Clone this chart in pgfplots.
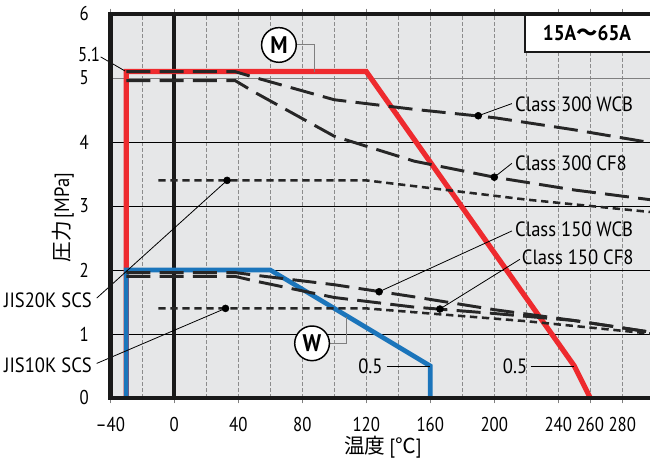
\documentclass[border=0pt]{standalone}
\usepackage{fontspec}
\setmainfont{PT Sans}[FakeStretch=0.9]
\newfontfamily\tickfont{PT Sans}[FakeStretch=0.84]
\newfontfamily\cjk{Noto Sans CJK JP}
\usepackage{pgfplots}
\pgfplotsset{compat=1.18}
\definecolor{bg}{HTML}{E6E7E8}
\definecolor{mred}{HTML}{EE2A2E}
\definecolor{wblue}{HTML}{1B75BB}
\definecolor{lead}{HTML}{7F7F7F}
\begin{document}
\begin{tikzpicture}[font=\fontsize{15.5}{18}\selectfont]
\begin{axis}[
  scale only axis, width=404.8pt, height=288pt,
  xmin=-40, xmax=297.3, ymin=0, ymax=6,
  axis line style={draw=none},
  axis background/.style={fill=bg},
  xtick={-40,0,40,80,120,160,200,240,260,280},
  xticklabels={–40,0,40,80,120,160,200,240,260,280},
  minor xtick={-20,20,60,100,140,180,220},
  xmajorgrids, xminorgrids,
  major grid style={black!45, line width=0.6pt, dash pattern=on 3pt off 1.5pt},
  minor grid style={black!45, line width=0.6pt, dash pattern=on 3pt off 1.5pt},
  ytick={0,1,2,3,4,5,6}, yticklabels={0,1,2,3,4,5,6},
  tick align=outside,
  major tick length=4pt, minor tick length=0pt,
  xtick style={lead, line width=0.6pt},
  ytick style={draw=none},
  ticklabel style={font=\tickfont\fontsize{15}{18}\selectfont},
  xticklabel style={anchor=north, inner sep=0pt, yshift=-10pt},
  yticklabel style={anchor=east, inner sep=0pt, xshift=-12pt},
  clip mode=individual,
]
\coordinate (SW) at (axis cs:-40,0);
% horizontal grid
\draw[black, line width=0.6pt] (axis cs:-40,1) -- (axis cs:297.3,1);
\draw[black, line width=0.6pt] (axis cs:-40,2) -- (axis cs:297.3,2);
\draw[black, line width=0.6pt] (axis cs:-40,3) -- (axis cs:297.3,3);
\draw[black, line width=0.6pt] (axis cs:-40,4) -- (axis cs:297.3,4);
\draw[black!50, line width=0.6pt] (axis cs:-40,5) -- (axis cs:297.3,5);
% zero line
\draw[black!90, line width=3pt] (axis cs:0,0) -- (axis cs:0,6);
% M (red)
\addplot[mred, line width=3.9pt, line join=miter] coordinates {(-30,0) (-30,5.1) (120,5.1) (250,0.5) (260,0)};
% W (blue)
\addplot[wblue, line width=3.5pt, line join=miter] coordinates {(-30,0) (-30,2) (60,2) (160,0.5) (160,0)};
% Class 300 WCB
\addplot[black!85, line width=2.2pt, dash pattern=on 18pt off 7pt] coordinates {(-30,5.1) (38,5.1) (50,5.01) (100,4.66) (150,4.51) (200,4.38) (250,4.19) (300,3.98)};
% Class 300 CF8
\addplot[black!85, line width=2.2pt, dash pattern=on 18pt off 7pt] coordinates {(-30,4.96) (38,4.96) (50,4.78) (100,4.09) (150,3.70) (200,3.45) (250,3.25) (300,3.09)};
% Class 150 WCB
\addplot[black!85, line width=2.2pt, dash pattern=on 18pt off 7pt] coordinates {(-30,1.96) (38,1.96) (50,1.92) (100,1.77) (150,1.58) (200,1.38) (250,1.21) (300,1.02)};
% Class 150 CF8
\addplot[black!85, line width=2.2pt, dash pattern=on 18pt off 7pt] coordinates {(-30,1.90) (38,1.90) (50,1.83) (100,1.57) (150,1.42) (200,1.32) (250,1.21) (300,1.02)};
% JIS 20K SCS
\addplot[black!85, line width=1.9pt, dash pattern=on 5.5pt off 3.5pt] coordinates {(-10,3.4) (120,3.4) (220,3.1) (300,2.9)};
% JIS 10K SCS
\addplot[black!85, line width=1.9pt, dash pattern=on 5.5pt off 3.5pt] coordinates {(-10,1.4) (120,1.4) (220,1.2) (300,1.0)};
% dots
\addplot[only marks, mark=*, mark size=2.6pt, black] coordinates {(190,4.41) (200,3.45) (128,1.66) (166,1.39) (33,3.4) (32,1.4)};
% leaders
\draw[black, line width=0.6pt] (axis cs:190,4.41) -- (axis cs:211,4.6);
\draw[black, line width=0.6pt] (axis cs:200,3.45) -- (axis cs:211,3.667);
\draw[black, line width=0.6pt] (axis cs:128,1.66) -- (axis cs:211,2.61);
\draw[black, line width=0.6pt] (axis cs:166,1.39) -- (axis cs:216,2.167);
\draw[black, line width=0.6pt] (axis cs:-48.5,1.56) -- (axis cs:33,3.4);
\draw[black, line width=0.6pt] (axis cs:-48.5,0.54) -- (axis cs:32,1.4);
\draw[black, line width=0.6pt] (axis cs:132.7,0.5) -- (axis cs:160,0.5);
\draw[black, line width=0.6pt] (axis cs:222.7,0.5) -- (axis cs:250,0.5);
\draw[black, line width=0.6pt] (axis cs:-46,5.33) -- (axis cs:-30.8,5.11);
% labels
\node[anchor=west, inner sep=0pt] at (axis cs:212.9,4.594) {Class 300 WCB};
\node[anchor=west, inner sep=0pt] at (axis cs:212.9,3.672) {Class 300 CF8};
\node[anchor=west, inner sep=0pt] at (axis cs:212.9,2.64) {Class 150 WCB};
\node[anchor=west, inner sep=0pt] at (axis cs:217.1,2.198) {Class 150 CF8};
\node[anchor=east, inner sep=0pt] at (axis cs:-51.4,1.53) {JIS20K SCS};
\node[anchor=east, inner sep=0pt] at (axis cs:-51.4,0.516) {JIS10K SCS};
\node[inner sep=0pt] at (axis cs:122.6,0.49) {0.5};
\node[inner sep=0pt] at (axis cs:213,0.49) {0.5};
\node[inner sep=0pt, font=\tickfont\fontsize{15}{18}\selectfont] at (axis cs:-53.2,5.36) {5.1};
% M and W circles
\draw[lead, line width=0.75pt] (axis cs:76.9,5.516) -- (axis cs:87.9,5.516) -- (axis cs:87.9,5.1);
\node[circle, draw=black, line width=1.1pt, fill=white, minimum size=26pt, inner sep=0pt, font=\bfseries\fontsize{18}{20}\selectfont] at (axis cs:65.4,5.516) {M};
\draw[lead, line width=0.75pt] (axis cs:96.9,0.854) -- (axis cs:107.7,0.854) -- (axis cs:107.7,1.266);
\node[circle, draw=black, line width=1.1pt, fill=white, minimum size=26pt, inner sep=0pt, font=\bfseries\fontsize{18}{20}\selectfont] at (axis cs:86.1,0.854) {W};
% size box
\path[fill=white] (axis cs:219.2,5.41) rectangle (axis cs:297.3,6);
\draw[black!90, line width=1.5pt] (axis cs:297.3,5.41) -- (axis cs:219.2,5.41) -- (axis cs:219.2,6);
\node[font=\bfseries\fontsize{16}{18}\selectfont] at (axis cs:257.9,5.70) {15A{\cjk ～}65A};
% frame
\draw[black!90, line width=3.5pt, line join=miter] (axis cs:297.3,6) -- (axis cs:-40,6) -- (axis cs:-40,0) -- (axis cs:297.3,0);
% axis titles
\node[rotate=90] at (axis cs:-69.6,2.82) {{\cjk\fontsize{15.5}{18}\selectfont 圧力}\hspace{2pt}[MPa]};
\node at (axis cs:130.4,-0.766) {{\cjk\fontsize{15.5}{18}\selectfont 温度}\hspace{3pt}[{\cjk\fontsize{15.5}{18}\selectfont ℃}]};
\end{axis}
\pgfresetboundingbox
\path[use as bounding box] ([shift={(-82.7pt,-51pt)}]SW) rectangle ([shift={(404.8pt,298.5pt)}]SW);
\end{tikzpicture}
\end{document}
